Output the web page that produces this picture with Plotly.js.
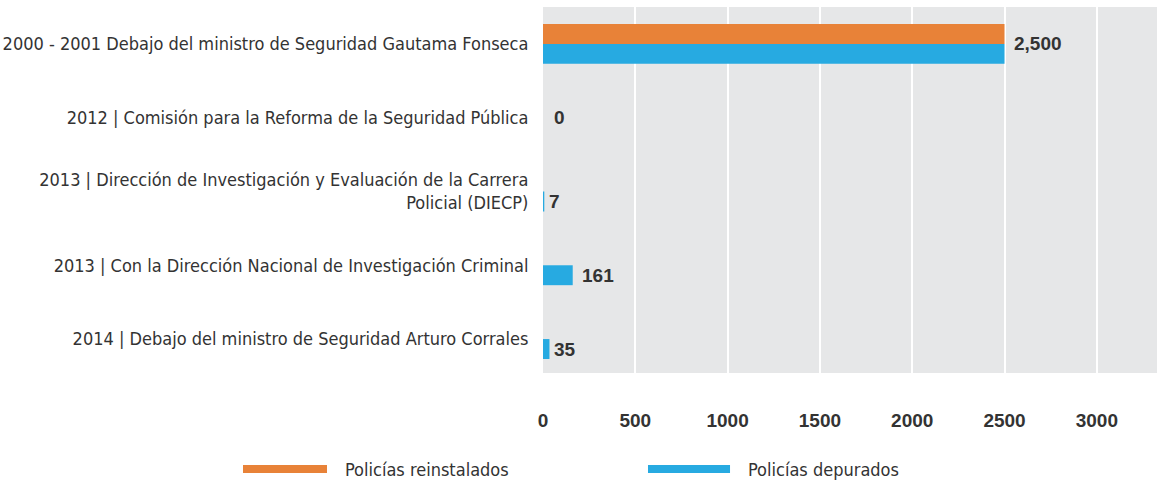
<!DOCTYPE html>
<html>
<head>
<meta charset="utf-8">
<script src="https://cdn.plot.ly/plotly-3.0.1.min.js"></script>
<style>html,body{margin:0;padding:0;background:#fff;}#chart{width:1157px;height:483px;}</style>
</head>
<body>
<div id="chart"></div>
<script>
var categories = [
  "2000 - 2001 Debajo del ministro de Seguridad Gautama Fonseca",
  "2012 | Comisión para la Reforma de la Seguridad Pública",
  "2013 | Dirección de Investigación y Evaluación de la Carrera<br>Policial (DIECP)",
  "2013 | Con la Dirección Nacional de Investigación Criminal",
  "2014 | Debajo del ministro de Seguridad Arturo Corrales"
];
var seriesNames = ["Policías reinstalados", "Policías depurados"];
var reinstalados = [2500, 0, 0, 0, 0];
var depurados = [2500, 0, 7, 161, 35];
var valueLabels = ["2,500", "0", "7", "161", "35"];
var xTicks = [0, 500, 1000, 1500, 2000, 2500, 3000];

var colors = ["#E88238", "#27AAE1"];
var condensed = "'Liberation Sans Narrow', 'DejaVu Sans Condensed', Arial, sans-serif";
var boldFont = "Liberation Sans, Arial, sans-serif";

var traces = [
  {type: "bar", orientation: "h", name: seriesNames[0], y: categories, x: reinstalados,
   marker: {color: colors[0]}, hoverinfo: "x"},
  {type: "bar", orientation: "h", name: seriesNames[1], y: categories, x: depurados,
   marker: {color: colors[1]}, hoverinfo: "x"}
];

var annotations = [];
for (var i = 0; i < categories.length; i++) {
  var centred = reinstalados[i] > 0 || depurados[i] === 0;
  annotations.push({
    x: Math.max(reinstalados[i], depurados[i]), y: categories[i], xref: "x", yref: "y",
    text: valueLabels[i], showarrow: false, xanchor: "left",
    xshift: depurados[i] === 0 ? 9 : (depurados[i] > 100 ? 7 : 3),
    yshift: centred ? 0 : -10,
    font: {family: boldFont, size: 19, color: "#333", weight: "bold"}
  });
}
// legend drawn as long swatches + text (paper coords relative to plot area)
var legendSwatchX = [[-0.4886, -0.3518], [0.171, 0.3046]];
var shapes = [];
for (var j = 0; j < seriesNames.length; j++) {
  shapes.push({type: "rect", xref: "paper", yref: "paper",
    x0: legendSwatchX[j][0], x1: legendSwatchX[j][1], y0: -0.2732, y1: -0.2514,
    fillcolor: colors[j], line: {width: 0}});
  annotations.push({xref: "paper", yref: "paper", x: legendSwatchX[j][1] + 0.026, y: -0.2623,
    text: seriesNames[j], showarrow: false, xanchor: "left", yanchor: "middle",
    font: {family: condensed, size: 18, color: "#333"}});
}

var layout = {
  width: 1157, height: 483,
  margin: {l: 543, r: 0, t: 7, b: 110},
  paper_bgcolor: "#ffffff",
  plot_bgcolor: "#E6E7E8",
  barmode: "group",
  bargap: 0.46,
  bargroupgap: 0,
  showlegend: false,
  xaxis: {
    range: [0, 3326], tickvals: xTicks, ticktext: xTicks.map(String),
    showgrid: true, gridcolor: "#ffffff", gridwidth: 2, zeroline: false,
    showline: false, ticks: "outside", ticklen: 30, tickcolor: "rgba(0,0,0,0)",
    tickfont: {family: boldFont, size: 19, color: "#333", weight: "bold"},
    fixedrange: true
  },
  yaxis: {
    type: "category", range: [4.46, -0.5],
    showgrid: false, zeroline: false, showline: false,
    ticks: "outside", ticklen: 10, tickcolor: "rgba(0,0,0,0)",
    tickfont: {family: condensed, size: 18, color: "#333"},
    fixedrange: true
  },
  annotations: annotations,
  shapes: shapes
};

Plotly.newPlot("chart", traces, layout, {displayModeBar: false, staticPlot: true});
</script>
</body>
</html>
